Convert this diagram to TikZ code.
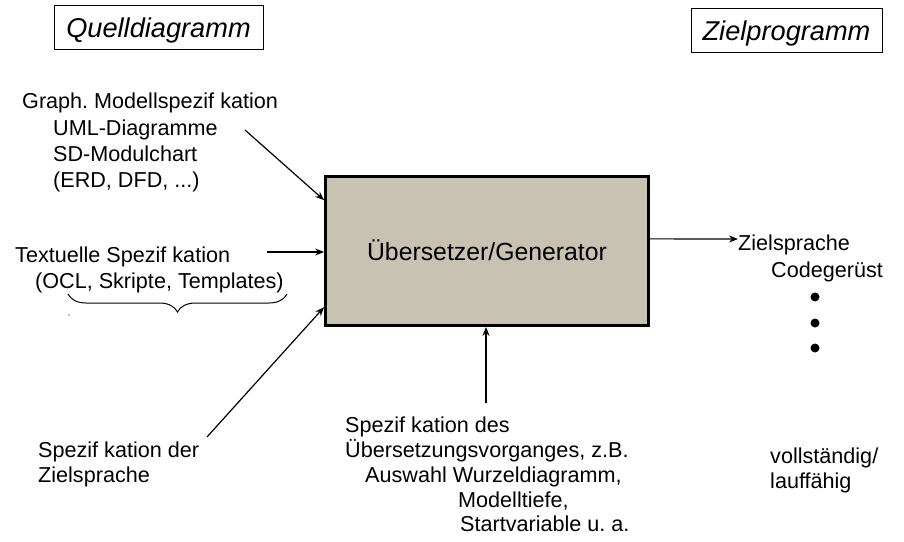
\documentclass[tikz,border=0pt]{standalone}
\usepackage{fontspec}
\setmainfont{Liberation Sans}
\usepackage{tikz}
\usetikzlibrary{calc,decorations.pathreplacing,arrows.meta}

\definecolor{genfill}{RGB}{200,194,178}
\frenchspacing

\tikzset{
	txt/.style={anchor=base west, inner sep=0pt, font=\fontsize{21.6}{25}\selectfont},
	kopf/.style={draw, line width=1pt, inner sep=0pt, text height=20pt, text depth=0pt,
		font=\fontsize{27.2}{30}\selectfont\itshape},
	pfeil/.style={-{Stealth[length=9pt,width=7pt]}, line width=1.2pt}
}

\begin{document}
\begin{tikzpicture}[x=1pt,y=-1pt]

	\useasboundingbox (0,0) rectangle (904,541);

	% Kopfzeilen
	\node[kopf, minimum width=209, minimum height=44] (quelle) at (158.5,27) {Quelldiagramm};
	\node[kopf, minimum width=191, minimum height=44] (ziel) at (786.5,30) {Zielprogramm};

	% Uebersetzer
	\node[draw, line width=2.8pt, fill=genfill, minimum width=323, minimum height=149,
		text height=18pt, text depth=0pt,
		font=\fontsize{24.8}{28}\selectfont] (gen) at (487,251) {Übersetzer/Generator};

	% linke Seite
	\node[txt] (graph) at (22,108) {Graph. Modellspezif kation};
	\node[txt] (uml) at (53,135) {UML-Diagramme};
	\node[txt] (sd) at (53,161) {SD-Modulchart};
	\node[txt] (erd) at (53,187) {(ERD, DFD, ...)};

	\node[txt] (textspez) at (15,262) {Textuelle Spezif kation};
	\node[txt] (ocl) at (35,288) {(OCL, Skripte, Templates)};

	\node[txt] (zielspez) at (38,457) {Spezif kation der};
	\node[txt] (zielspr) at (38,482) {Zielsprache};

	\coordinate (graphA) at (245,130);
	\coordinate (textA) at (267,252);
	\coordinate (zielA) at (207,437);

	\draw[pfeil] (graphA) -- ($(gen.north west)!0.165!(gen.south west)$);
	\draw[pfeil] (textA) -- (gen.west |- textA);
	\draw[pfeil] (zielA) -- ($(gen.north west)!0.87!(gen.south west)$);

	\draw[line width=1pt, decorate, decoration={brace, mirror, amplitude=18pt}]
		(68,294) -- (287,294);
	\fill[gray] (69,315) circle (0.8);

	% unten
	\node[txt] (uspez) at (345,432) {Spezif kation des};
	\node[txt] (uvorg) at (345,457) {Übersetzungsvorganges, z.B.};
	\node[txt] (uwurz) at (365,482) {Auswahl Wurzeldiagramm,};
	\node[txt] (utief) at (458,507) {Modelltiefe,};
	\node[txt] (ustart) at (460,531) {Startvariable u. a.};

	\coordinate (untenA) at (486,403);
	\draw[pfeil] (untenA) -- (gen.south -| untenA);

	% rechte Seite
	\node[txt] (zsprache) at (738,250) {Zielsprache};
	\node[txt] (codeg) at (771,277) {Codegerüst};
	\node[txt] (vollst) at (770,463) {vollständig/};
	\node[txt] (lauff) at (770,488) {lauffähig};

	\draw[pfeil] ($(gen.north east)!0.42!(gen.south east)$) -- (zsprache.west |- 0,239);

	\foreach \y in {297, 323, 348}{
		\fill (815,\y) circle (4.5);
	}

\end{tikzpicture}
\end{document}
